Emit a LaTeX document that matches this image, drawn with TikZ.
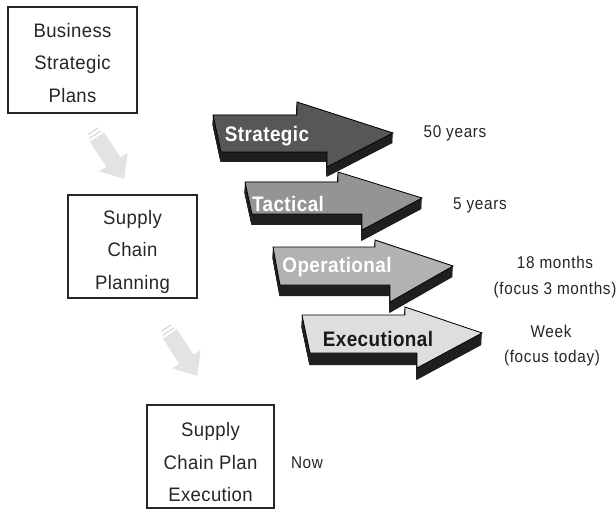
\documentclass[tikz,border=0pt]{standalone}
\usepackage{fontspec}
\setmainfont{Liberation Sans}
\newfontfamily\narrowfont[FakeStretch=0.9,LetterSpace=4]{Liberation Sans}
\newfontfamily\boxfont[FakeStretch=0.95,LetterSpace=2]{Liberation Sans}
\newfontfamily\arrowfont[FakeStretch=0.9,LetterSpace=2]{Liberation Sans}
\begin{document}
\begin{tikzpicture}[x=1bp,y=-1bp,
  box/.style={draw=black!85,line width=1.1bp,rectangle,inner sep=0pt},
  boxtext/.style={align=center,inner sep=0pt,
     font=\boxfont\fontsize{19.5bp}{32.5bp}\selectfont,text=black!85},
  side/.style={font=\narrowfont\fontsize{17bp}{20bp}\selectfont,text=black!85},
  atext/.style={font=\arrowfont\bfseries\fontsize{21bp}{24bp}\selectfont},
  face/.style={draw=black,line width=0.8bp,line join=miter},
  extr/.style={fill=black!88}
]
\useasboundingbox (0,0) rectangle (616,510);
\fill[white] (0,0) rectangle (616,510);

% ---- left boxes ----
\node[box,minimum width=129bp,minimum height=106bp] (b1) at (72.5,60) {};
\node[boxtext] (t1) at ([yshift=-3bp]b1.center) {Business\\Strategic\\Plans};
\node[box,minimum width=129bp,minimum height=103bp] (b2) at (132.5,246.5) {};
\node[boxtext] (t2) at ([yshift=-5bp]b2.center) {Supply\\Chain\\Planning};
\node[box,minimum width=127bp,minimum height=103bp] (b3) at (210.5,456.5) {};
\node[boxtext] (t3) at ([yshift=-6bp]b3.center) {Supply\\Chain Plan\\Execution};
\node[side] (now) at (307,463) {Now};

% ---- light gray diagonal arrows ----
\coordinate (g1) at (97,137);
\coordinate (g2) at (170,334);
\foreach \c/\r in {g1/-57,g2/-57}{
  \begin{scope}[shift={(\c)},rotate=\r]
    \fill[black!11] (0,-8.5) -- (30,-8.5) -- (30,-17) -- (50,0) -- (30,17) -- (30,8.5) -- (0,8.5) -- cycle;
    \draw[black!20,line width=0.8bp] (-3,-7) -- (-3,7);
    \draw[black!20,line width=0.8bp] (-7,-6) -- (-7,6);
  \end{scope}
}

% ---- big arrows (drawn bottom to top) ----
% Executional
\foreach \k in {0,0.5,...,12}{
  \fill[extr,shift={(-0.05*\k,\k)}] (302,315)--(405,315)--(405,307)--(482,333)--(417,368)--(417,353)--(310,353)--cycle;}
\filldraw[face,fill=black!13] (302,315)--(405,315)--(405,307)--(482,333)--(417,368)--(417,353)--(310,353)--cycle;
\node[atext,text=black!90] (exe) at (378,339) {Executional};
% Operational
\foreach \k in {0,0.5,...,11}{
  \fill[extr,shift={(-0.05*\k,\k)}] (273,247)--(375,247)--(375,240)--(453,266)--(390,302)--(390,285)--(280,285)--cycle;}
\filldraw[face,fill=black!30] (273,247)--(375,247)--(375,240)--(453,266)--(390,302)--(390,285)--(280,285)--cycle;
\node[atext,text=white] (ope) at (337,267) {Operational};
% Tactical
\foreach \k in {0,0.5,...,11}{
  \fill[extr,shift={(-0.05*\k,\k)}] (245,182)--(338,182)--(338,172)--(422,198)--(362,230)--(362,214)--(252,214)--cycle;}
\filldraw[face,fill=black!42] (245,182)--(338,182)--(338,172)--(422,198)--(362,230)--(362,214)--(252,214)--cycle;
\node[atext,text=white] (tac) at (288,204) {Tactical};
% Strategic
\foreach \k in {0,0.5,...,10}{
  \fill[extr,shift={(-0.05*\k,\k)}] (213,115)--(297,115)--(297,102)--(393,133)--(327,167)--(327,152)--(221,152)--cycle;}
\filldraw[face,fill=black!66] (213,115)--(297,115)--(297,102)--(393,133)--(327,167)--(327,152)--(221,152)--cycle;
\node[atext,text=white] (str) at (267,136) {Strategic};

% ---- right labels ----
\node[side] (l1) at (455,133) {50 years};
\node[side] (l2) at (480,205) {5 years};
\node[side] (l3) at (555,262) {18 months};
\node[side] (l4) at (555,290) {(focus 3 months)};
\node[side] (l5) at (551,331) {Week};
\node[side] (l6) at (552,358) {(focus today)};
\end{tikzpicture}
\end{document}
